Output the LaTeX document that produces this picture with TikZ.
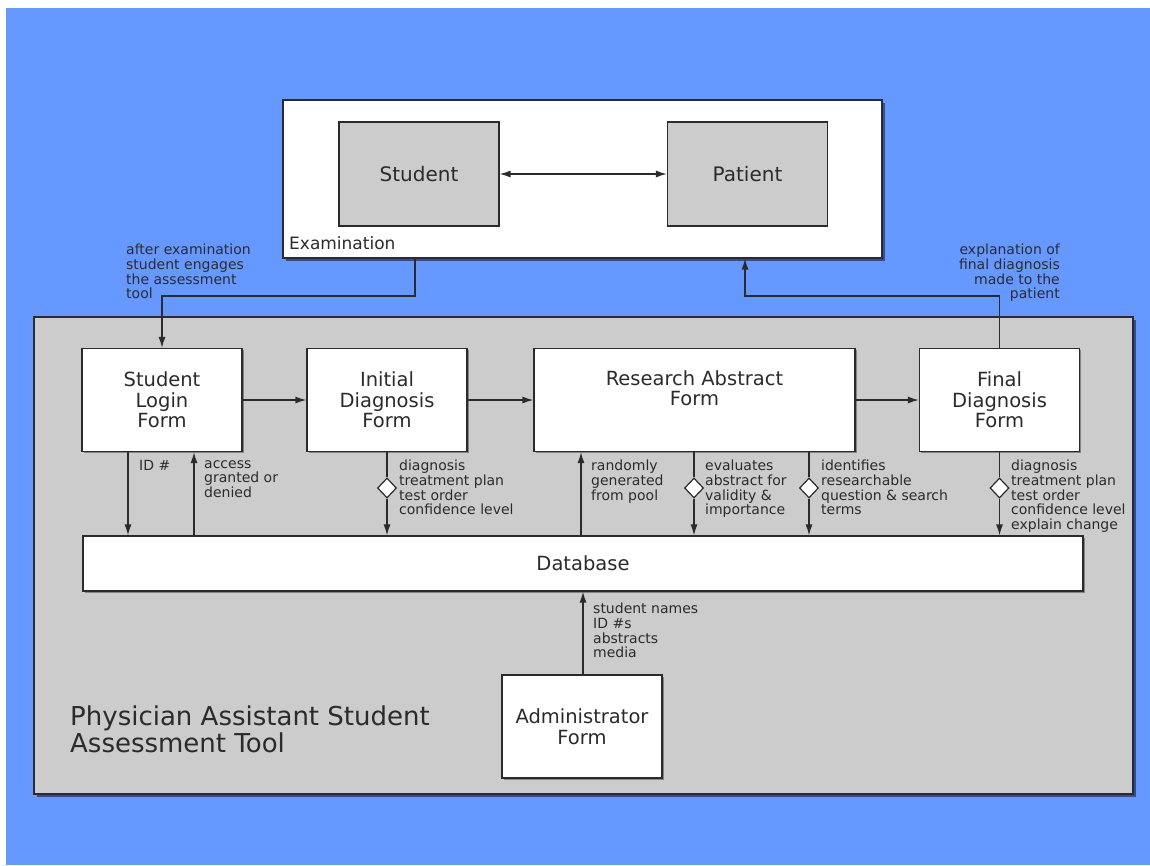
\documentclass[tikz,border=0pt]{standalone}
\usepackage{fontspec}
\setmainfont{DejaVu Sans}
\usetikzlibrary{arrows.meta,shapes.geometric,shadows}
\definecolor{bg}{HTML}{6699FF}
\definecolor{panel}{HTML}{CCCCCC}
\definecolor{ink}{HTML}{2B2B2B}
\definecolor{shade}{HTML}{1C2F66}
\begin{document}
\begin{tikzpicture}[x=1pt,y=-1pt,
  every node/.style={text=ink},
  bigpanel/.style={draw=ink, line width=1.2pt, inner sep=0pt,
    drop shadow={shadow xshift=3pt, shadow yshift=-3pt, fill=shade, opacity=.7}},
  wbox/.style={draw=ink, line width=1.2pt, fill=white, inner sep=0pt,
    minimum width=160pt, minimum height=103pt, align=center,
    font=\fontsize{19.5}{20.5}\selectfont,
    drop shadow={shadow xshift=1.5pt, shadow yshift=-1.5pt, fill=black, opacity=.35}},
  gbox/.style={draw=ink, line width=1.2pt, fill=panel, inner sep=0pt,
    minimum width=160pt, minimum height=104pt, font=\fontsize{20}{21}\selectfont},
  lbl/.style={inner sep=0pt, anchor=north west, align=left,
    font=\fontsize{14}{14.6}\selectfont},
  tip/.style={},
  arr/.style={draw=ink, line width=1.3pt, -{Latex[length=11pt,width=7pt]}},
  ln/.style={draw=ink, line width=1.3pt},
  dia/.style={diamond, draw=ink, line width=1.2pt, fill=white, inner sep=0pt,
    minimum width=19pt, minimum height=20pt}
]
\useasboundingbox (0,0) rectangle (1150,865);
\fill[white] (0,0) rectangle (1150,865);
\fill[bg] (6,8) rectangle (1150,865);

% panels
\node[bigpanel, fill=white, minimum width=599pt, minimum height=158pt] (exam) at (582.5,179) {};
\node[bigpanel, fill=panel, minimum width=1099pt, minimum height=477pt] (tool) at (583.5,555.5) {};

% examination contents
\node[gbox] (stud) at (419,174) {Student};
\node[gbox] (pat) at (747.5,174) {Patient};
\node[inner sep=0pt, anchor=base west, font=\fontsize{17}{18}\selectfont] (examlbl) at (289,249) {Examination};
\draw[draw=ink, line width=1.3pt, {Latex[length=11pt,width=7pt]}-{Latex[length=11pt,width=7pt]}] (stud.east) -- (pat.west);

% forms
\node[wbox] (login) at (162,400) {Student\\Login\\Form};
\node[wbox] (init) at (387,400) {Initial\\Diagnosis\\Form};
\node[wbox, minimum width=321pt] (res) at (694.5,400) {};
\node[inner sep=0pt, anchor=north, align=center, font=\fontsize{19.5}{20.5}\selectfont] (restext) at (694.5,370) {Research Abstract\\Form};
\node[wbox] (final) at (999.5,400) {Final\\Diagnosis\\Form};
\node[wbox, minimum width=1000pt, minimum height=55pt] (db) at (583,563.5) {Database};
\node[wbox] (admin) at (582,726.5) {Administrator\\Form};

% title
\node[inner sep=0pt, anchor=north west, align=left, font=\fontsize{26}{27}\selectfont] (title) at (70,706) {Physician Assistant Student\\Assessment Tool};

% horizontal flow
\draw[arr] (login.east) -- (init.west);
\draw[arr] (init.east) -- (res.west);
\draw[arr] (res.east) -- (final.west);

% exam <-> tool
\coordinate (xa) at (415,0);
\coordinate (ta) at (162,296);
\draw[arr] (exam.south -| xa) |- (ta) -- (login.north);
\node[lbl] (lblA) at (126,244) {after examination\\student engages\\the assessment\\tool};

\coordinate (tb) at (745,296);
\draw[arr] (final.north) |- (tb) -- (exam.south -| tb);
\node[lbl, anchor=north east, align=right] (lblB) at (1060,244) {explanation of\\final diagnosis\\made to the\\patient};

% login <-> db
\coordinate (xid) at (128,0);
\coordinate (xac) at (194,0);
\draw[arr] (login.south -| xid) -- (db.north -| xid);
\draw[arr] (db.north -| xac) -- (login.south -| xac);
\node[lbl] (lblid) at (139,460) {ID \#};
\node[lbl] (lblac) at (204,460) {access\\granted or\\denied};

% initial -> db
\node[dia] (d1) at (387,488) {};
\draw[ln] (init.south) -- (d1.north);
\draw[arr] (d1.south) -- (db.north -| d1);
\node[lbl] (lbl1) at (399,460) {diagnosis\\treatment plan\\test order\\confidence level};

% research <-> db
\coordinate (xr) at (581,0);
\draw[arr] (db.north -| xr) -- (res.south -| xr);
\node[lbl] (lblr) at (591,460) {randomly\\generated\\from pool};

\node[dia] (d2) at (694,488) {};
\draw[ln] (res.south -| d2) -- (d2.north);
\draw[arr] (d2.south) -- (db.north -| d2);
\node[lbl] (lbl2) at (705,460) {evaluates\\abstract for\\validity \&\\importance};

\node[dia] (d3) at (809,488) {};
\draw[ln] (res.south -| d3) -- (d3.north);
\draw[arr] (d3.south) -- (db.north -| d3);
\node[lbl] (lbl3) at (821,460) {identifies\\researchable\\question \& search\\terms};

% final -> db
\node[dia] (d4) at (999.5,488) {};
\draw[ln] (final.south) -- (d4.north);
\draw[arr] (d4.south) -- (db.north -| d4);
\node[lbl] (lbl4) at (1011,460) {diagnosis\\treatment plan\\test order\\confidence level\\explain change};

% admin -> db
\coordinate (xadm) at (583,0);
\draw[arr] (admin.north -| xadm) -- (db.south -| xadm);
\node[lbl] (lbladm) at (593,603) {student names\\ID \#s\\abstracts\\media};
\end{tikzpicture}
\end{document}
